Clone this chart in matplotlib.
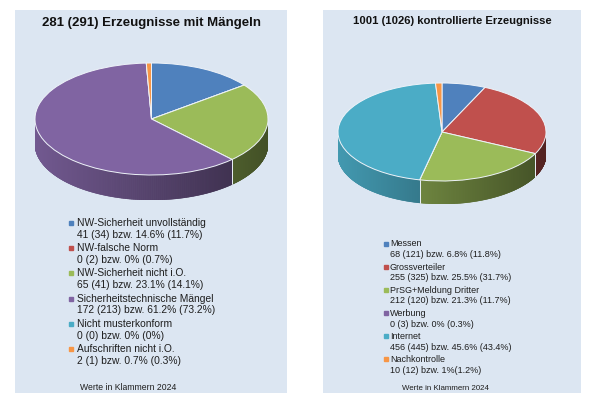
import numpy as np
import matplotlib
matplotlib.use('Agg')
import matplotlib.pyplot as plt
from matplotlib.collections import PolyCollection, LineCollection
from matplotlib.lines import Line2D
from matplotlib.colors import to_rgb

plt.rcParams['font.family'] = ['Liberation Sans', 'DejaVu Sans']

# ---------------- data ----------------
left_title = "281 (291) Erzeugnisse mit Mängeln"
left_categories = ["NW-Sicherheit unvollständig", "NW-falsche Norm", "NW-Sicherheit nicht i.O.",
                   "Sicherheitstechnische Mängel", "Nicht musterkonform", "Aufschriften nicht i.O."]
left_values = [41, 0, 65, 172, 0, 2]
left_details = ["41 (34) bzw. 14.6% (11.7%)", "0 (2) bzw. 0% (0.7%)", "65 (41) bzw. 23.1% (14.1%)",
                "172 (213) bzw. 61.2% (73.2%)", "0 (0) bzw. 0% (0%)", "2 (1) bzw. 0.7% (0.3%)"]

right_title = "1001 (1026) kontrollierte Erzeugnisse"
right_categories = ["Messen", "Grossverteiler", "PrSG+Meldung Dritter", "Werbung", "Internet", "Nachkontrolle"]
right_values = [68, 255, 212, 0, 456, 10]
right_details = ["68 (121) bzw. 6.8% (11.8%)", "255 (325) bzw. 25.5% (31.7%)", "212 (120) bzw. 21.3% (11.7%)",
                 "0 (3) bzw. 0% (0.3%)", "456 (445) bzw. 45.6% (43.4%)", "10 (12) bzw. 1%(1.2%)"]

footnote = "Werte in Klammern 2024"
colors = ["#4f81bd", "#c0504d", "#9bbb59", "#8064a2", "#4bacc6", "#f79646"]

# ---------------- layout helpers ----------------
W, H = 600, 400
fig = plt.figure(figsize=(6, 4), dpi=100)
PANEL = '#dce6f2'
TXT = '#1e1e1e'


def px_axes(x0, y0, x1, y1):
    return fig.add_axes([x0 / W, 1 - y1 / H, (x1 - x0) / W, (y1 - y0) / H])


def fx(x):
    return x / W


def fy(y):
    return 1 - y / H


def panel(x0, y0, x1, y1):
    ax = px_axes(x0, y0, x1, y1)
    ax.set_facecolor(PANEL)
    ax.set_xticks([]); ax.set_yticks([])
    for s in ax.spines.values():
        s.set_visible(False)
    return ax


def draw_pie3d(ax, values, depth):
    ax.pie(values, colors=colors, startangle=90, counterclock=False, radius=1,
           wedgeprops=dict(edgecolor='#eef3f9', linewidth=0.7))
    for w in ax.patches:
        w.set_zorder(5)
    ax.set_aspect('auto')
    ax.set_xlim(-1, 1)
    ax.set_ylim(-1 - depth, 1)
    total = float(sum(values))
    polys, fcs, seps = [], [], []
    start = 90.0
    for v, c in zip(values, colors):
        sweep = 360.0 * v / total
        base = np.array(to_rgb(c))
        if sweep > 0:
            th = np.linspace(start - sweep, start, max(int(sweep * 3), 2))
            for t0, t1 in zip(th[:-1], th[1:]):
                tm = np.radians((t0 + t1) / 2)
                if np.sin(tm) < 0.02:
                    a0, a1 = np.radians(t0), np.radians(t1)
                    p = [(np.cos(a0), np.sin(a0)), (np.cos(a1), np.sin(a1)),
                         (np.cos(a1), np.sin(a1) - depth), (np.cos(a0), np.sin(a0) - depth)]
                    shade = 0.66 - 0.23 * np.cos(tm)
                    polys.append(p)
                    fcs.append(tuple(np.clip(base * shade, 0, 1)))
        for a in (start, start - sweep):
            r = np.radians(a)
            if np.sin(r) < -0.05 and v > 0:
                seps.append([(np.cos(r), np.sin(r)), (np.cos(r), np.sin(r) - depth)])
        start -= sweep
    ax.add_collection(PolyCollection(polys, facecolors=fcs, edgecolors=fcs, linewidths=0.4, zorder=2))
    ax.add_collection(LineCollection(seps, colors='#e8eef6', linewidths=0.7, zorder=3))


def legend(cats, details, colors_, xm, xt, y0, step, lstep, size):
    for i, (c, d, col) in enumerate(zip(cats, details, colors_)):
        y = y0 + i * step
        fig.add_artist(Line2D([fx(xm)], [fy(y)], marker='s', markersize=2.6, color=col,
                              linestyle='none', transform=fig.transFigure))
        fig.text(fx(xt), fy(y), c, fontsize=size, color=TXT, va='center', ha='left')
        fig.text(fx(xt), fy(y + lstep), d, fontsize=size, color=TXT, va='center', ha='left')


# ---------------- left panel ----------------
panel(15, 10, 287, 393)
axl = px_axes(35, 63, 268, 200)
draw_pie3d(axl, left_values, 25 / 56)
fig.text(fx(151), fy(23), left_title, fontsize=9.5, fontweight='bold', color='#111111',
         ha='center', va='center')
legend(left_categories, left_details, colors, 70.7, 77, 222.7, 25.3, 11.8, 7.4)
fig.text(fx(80), fy(387), footnote, fontsize=6.25, color=TXT, ha='left', va='center')

# ---------------- right panel ----------------
panel(323, 10, 581, 393)
axr = px_axes(338, 83, 546, 204)
draw_pie3d(axr, right_values, 23 / 49)
fig.text(fx(452.5), fy(21), right_title, fontsize=8.1, fontweight='bold', color='#111111',
         ha='center', va='center')
legend(right_categories, right_details, colors, 385.7, 390, 244, 23.07, 10.8, 6.5)
fig.text(fx(401.5), fy(389), footnote, fontsize=5.7, color=TXT, ha='left', va='center')

fig.savefig('out.png', dpi=100, facecolor='white')
